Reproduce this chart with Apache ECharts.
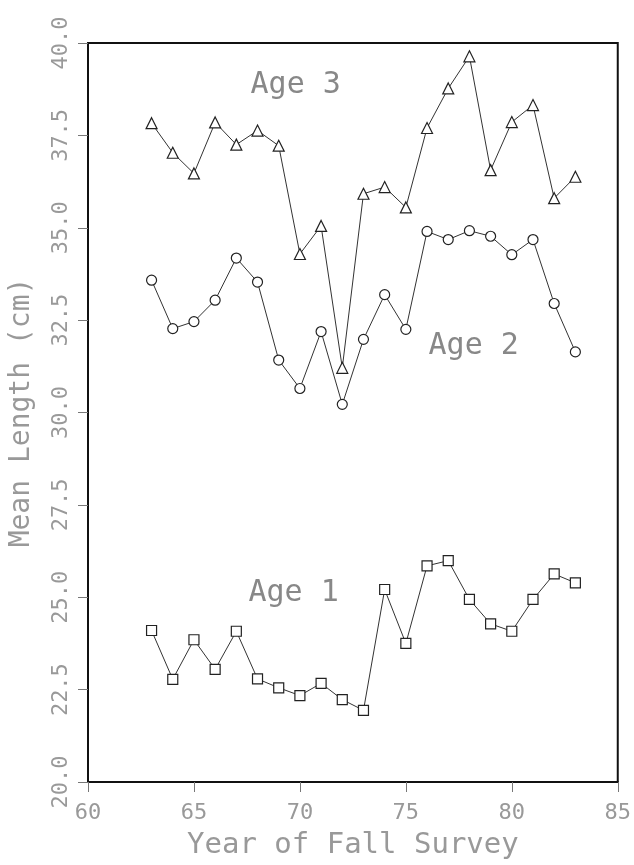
<!DOCTYPE html>
<html>
<head>
<meta charset="utf-8">
<script src="https://cdn.jsdelivr.net/npm/echarts@6/dist/echarts.min.js"></script>
<style>
  html, body { margin: 0; padding: 0; background: #fff; }
  #chart { width: 634px; height: 865px; }
</style>
</head>
<body>
<div id="chart"></div>
<script>
var years = [63, 64, 65, 66, 67, 68, 69, 70, 71, 72, 73, 74, 75, 76, 77, 78, 79, 80, 81, 82, 83];

var age1 = [24.10, 22.78, 23.85, 23.05, 24.08, 22.79, 22.55, 22.34, 22.67, 22.23, 21.94,
            25.21, 23.75, 25.85, 25.99, 24.94, 24.28, 24.08, 24.94, 25.63, 25.39];
var age2 = [33.58, 32.27, 32.46, 33.04, 34.18, 33.53, 31.42, 30.65, 32.19, 30.22, 31.98,
            33.19, 32.25, 34.90, 34.68, 34.92, 34.77, 34.27, 34.68, 32.95, 31.64];
var age3 = [37.83, 37.03, 36.47, 37.85, 37.25, 37.63, 37.22, 34.29, 35.05, 31.21, 35.92,
            36.10, 35.55, 37.70, 38.77, 39.64, 36.56, 37.86, 38.32, 35.80, 36.38];

// where the "Age n" captions sit, in data units
var captions = [
  { text: 'Age 3', x: 69.8, y: 38.85 },
  { text: 'Age 2', x: 78.2, y: 31.8 },
  { text: 'Age 1', x: 69.7, y: 25.12 }
];

var font = 'DejaVu Sans Mono';
var textGray = '#999';

function pairs(vals) {
  return years.map(function (yr, i) { return [yr, vals[i]]; });
}

function makeSeries(name, vals, symbol, cap) {
  return {
    name: name,
    type: 'line',
    data: pairs(vals),
    symbol: symbol,
    symbolSize: symbol === 'triangle' ? 11 : 10,
    lineStyle: { color: '#333', width: 1 },
    itemStyle: { color: '#fff', borderColor: '#222', borderWidth: 1.2 },
    z: 3,
    markPoint: {
      symbol: 'circle',
      symbolSize: 1,
      itemStyle: { color: 'rgba(0,0,0,0)' },
      label: {
        show: true,
        formatter: cap.text,
        fontFamily: font,
        fontSize: 30,
        color: '#888',
        position: 'inside'
      },
      data: [{ coord: [cap.x, cap.y] }]
    }
  };
}

var chart = echarts.init(document.getElementById('chart'));
chart.setOption({
  animation: false,
  backgroundColor: '#fff',
  grid: {
    left: 84, right: 12, top: 43, bottom: 81,
    show: true, borderColor: '#111', borderWidth: 2
  },
  xAxis: {
    type: 'value',
    min: 60, max: 85, interval: 5,
    name: 'Year of Fall Survey',
    nameLocation: 'middle',
    nameGap: 49,
    nameTextStyle: { fontFamily: font, fontSize: 29, color: textGray },
    axisLine: { show: true, lineStyle: { color: '#111', width: 2 } },
    axisTick: { show: true, length: 10, lineStyle: { color: '#777' } },
    axisLabel: { fontFamily: font, fontSize: 22, color: textGray, margin: 20 },
    splitLine: { show: false }
  },
  yAxis: {
    type: 'value',
    min: 20, max: 40, interval: 2.5,
    name: 'Mean Length (cm)',
    nameLocation: 'middle',
    nameGap: 52,
    nameTextStyle: { fontFamily: font, fontSize: 28, color: textGray },
    axisLine: { show: true, lineStyle: { color: '#111', width: 2 } },
    axisTick: { show: true, length: 10, lineStyle: { color: '#777' } },
    axisLabel: {
      fontFamily: font, fontSize: 22, color: textGray, rotate: 90, margin: 16,
      formatter: function (v) { return v.toFixed(1); }
    },
    splitLine: { show: false }
  },
  series: [
    makeSeries('Age 1', age1, 'rect', captions[2]),
    makeSeries('Age 2', age2, 'circle', captions[1]),
    makeSeries('Age 3', age3, 'triangle', captions[0])
  ]
});
</script>
</body>
</html>
